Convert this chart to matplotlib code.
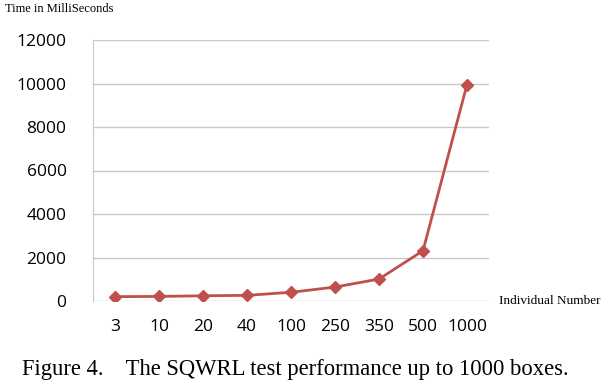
import matplotlib.pyplot as plt

# data
individuals = ["3", "10", "20", "40", "100", "250", "350", "500", "1000"]
time_ms = [200, 210, 240, 260, 400, 640, 1010, 2310, 9950]
y_ticks = [0, 2000, 4000, 6000, 8000, 10000, 12000]

fig = plt.figure(figsize=(6.04, 3.82), dpi=100)
# axes placed to match the original pixel box (x 93..489, y 40..301)
ax = fig.add_axes([93 / 604, 1 - 301 / 382, 396 / 604, 261 / 382])

xs = range(len(individuals))
ax.plot(xs, time_ms, color="#c0504d", lw=2, marker="D", ms=6,
        markeredgecolor="#c0504d", zorder=3)

ax.set_xlim(-0.5, len(individuals) - 0.5)
ax.set_ylim(0, 12000)
ax.set_yticks(y_ticks)
ax.set_yticklabels([str(v) for v in y_ticks], fontsize=12.5, family="Open Sans")
ax.set_xticks(list(xs))
ax.set_xticklabels(individuals, fontsize=12.5, family="Open Sans")
ax.tick_params(length=0)
ax.tick_params(axis="y", pad=19)
ax.tick_params(axis="x", pad=13)

ax.grid(axis="y", color="#c8c8c8", lw=1)
ax.set_axisbelow(True)
for s in ["top", "right", "bottom"]:
    ax.spines[s].set_visible(False)
ax.spines["left"].set_color("#c8c8c8")

fig.text(5 / 604, 1 - 9 / 382, "Time in MilliSeconds", family="Liberation Serif",
         fontsize=9, va="center", ha="left")
fig.text(499 / 604, 1 - 301 / 382, "Individual Number", family="Liberation Serif",
         fontsize=9.5, va="center", ha="left")
fig.text(22 / 604, 1 - 369 / 382,
         "Figure 4.    The SQWRL test performance up to 1000 boxes.",
         family="Liberation Serif", fontsize=16.3, va="center", ha="left")

fig.savefig("out.png", dpi=100)
